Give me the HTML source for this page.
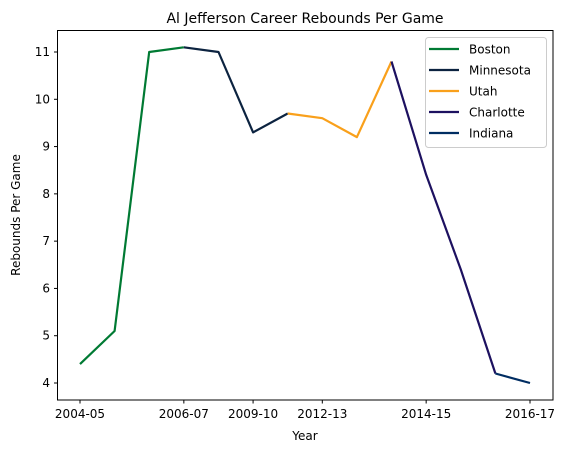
<!DOCTYPE html>
<html><head><meta charset="utf-8"><style>
html,body{margin:0;padding:0;background:#fff;}
svg{display:block;font-family:"DejaVu Sans","Liberation Sans",sans-serif;}
</style></head><body>
<svg id="chart" width="566" height="453" xmlns="http://www.w3.org/2000/svg">
<text x="305" y="23" font-size="14" text-anchor="middle">Al Jefferson Career Rebounds Per Game</text>
<g id="plot"></g>
<rect x="57.5" y="30.5" width="495.5" height="369.5" fill="none" stroke="#000" stroke-width="1"/>
<text x="305" y="440" font-size="12" text-anchor="middle">Year</text>
<text x="20" y="215" font-size="12" text-anchor="middle" transform="rotate(-90 20 215)">Rebounds Per Game</text>
<g id="legend"></g>
</svg>
<script>
const categories = ["2004-05","2005-06","2006-07","2007-08","2008-09","2009-10","2010-11","2011-12","2012-13","2013-14","2014-15","2015-16","2016-17","2017-18"];
const teams = ["Boston","Minnesota","Utah","Charlotte","Indiana"];
const colors = ["#007A33","#0C2340","#F9A01B","#1D1160","#002D62"];
const bostonIdx = [0,1,2,3];
const bostonVals = [4.4,5.1,11.0,11.1];
const minnesotaIdx = [3,4,5,6];
const minnesotaVals = [11.1,11.0,9.3,9.7];
const utahIdx = [6,7,8,9];
const utahVals = [9.7,9.6,9.2,10.8];
const charlotteIdx = [9,10,11,12];
const charlotteVals = [10.8,8.4,6.4,4.2];
const indianaIdx = [12,13];
const indianaVals = [4.2,4.0];
const xTickIdx = [0,3,5,7,10,13];
const xTickLabels = ["2004-05","2006-07","2009-10","2012-13","2014-15","2016-17"];
const yTicks = [4,5,6,7,8,9,10,11];

const NS="http://www.w3.org/2000/svg";
const xs = i => 80 + i*(530-80)/13;
const ys = v => 383 - (v-4)*(383-52)/7;
const plot=document.getElementById('plot');
function mk(t,a,p){const e=document.createElementNS(NS,t);for(const k in a)e.setAttribute(k,a[k]);p.appendChild(e);return e;}
const series=[[bostonIdx,bostonVals],[minnesotaIdx,minnesotaVals],[utahIdx,utahVals],[charlotteIdx,charlotteVals],[indianaIdx,indianaVals]];
series.forEach((s,k)=>{
  const pts=s[0].map((i,j)=>xs(i).toFixed(1)+','+ys(s[1][j]).toFixed(1)).join(' ');
  const l=mk('polyline',{points:pts,fill:'none',stroke:colors[k],'stroke-width':2.2,'stroke-linejoin':'round'},plot);
  
  
});
const svg=document.getElementById('chart');
yTicks.forEach(v=>{
  const y=ys(v);
  const t=mk('line',{x1:54,x2:57.5,y1:y,y2:y,stroke:'#000'},svg);
  
  
  const tx=mk('text',{x:50,y:y+4,'font-size':12,'text-anchor':'end'},svg);
  tx.textContent=v;
  
  
});
xTickIdx.forEach((i,j)=>{
  const x=xs(i);
  const t=mk('line',{x1:x,x2:x,y1:400,y2:403.5,stroke:'#000'},svg);
  
  
  const tx=mk('text',{x:x,y:418,'font-size':12,'text-anchor':'middle'},svg);
  tx.textContent=xTickLabels[j];
  
  
});
const lg=document.getElementById('legend');
mk('rect',{x:425.5,y:37.5,width:121,height:110,rx:3,fill:'#fff','fill-opacity':0.8,stroke:'#ccc'},lg);
teams.forEach((n,k)=>{
  const y=49+k*21;
  const e=mk('g',{},lg);
  
  
  mk('line',{x1:429,x2:459,y1:y,y2:y,stroke:colors[k],'stroke-width':2.2},e);
  const t=mk('text',{x:469,y:y+4.5,'font-size':12},e);
  t.textContent=n;
});
</script>
</body></html>
